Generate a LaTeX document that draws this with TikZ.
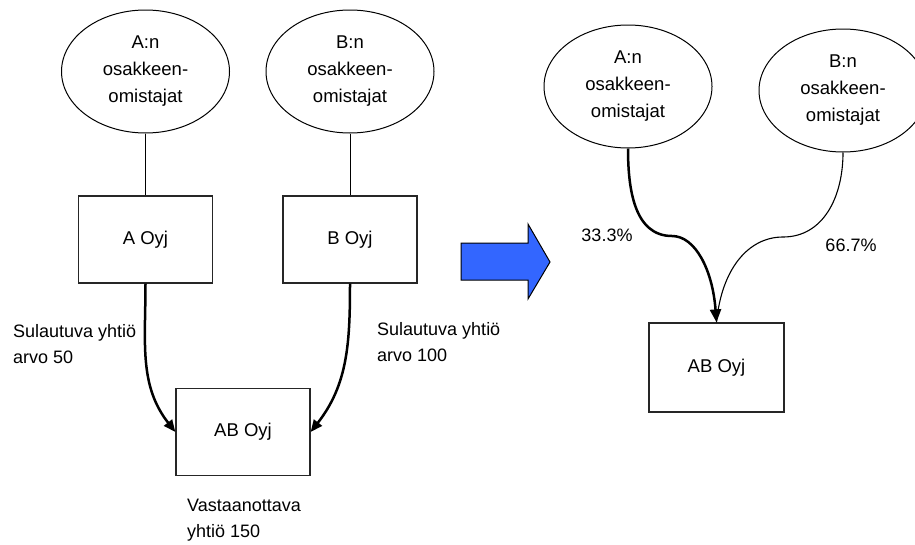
\documentclass[tikz,border=0pt]{standalone}
\usepackage{fontspec}
\setmainfont{Liberation Sans}
\usetikzlibrary{shapes.geometric,arrows.meta}
\definecolor{arrowblue}{RGB}{51,102,255}
\begin{document}
\begin{tikzpicture}[x=1pt,y=1pt,
  owner/.style={ellipse,draw,line width=1pt,minimum width=168pt,minimum height=123pt,
    inner sep=0pt,align=center,font=\fontsize{18.5}{27}\selectfont},
  firm/.style={rectangle,draw=black!85,line width=1.3pt,minimum width=134pt,
    minimum height=87pt,inner sep=0pt,font=\fontsize{18.5}{27}\selectfont},
  lbl/.style={inner sep=0pt,align=left,font=\fontsize{18}{25.5}\selectfont},
  link/.style={line width=1pt},
  merge/.style={line width=2.5pt,-{Triangle[length=12pt,width=10pt]}},
  share/.style={line width=1.1pt},
  bigarrow/.style={fill=arrowblue,draw=black,line width=1pt,line join=miter}]
\useasboundingbox (0,0) rectangle (915,-544);
\clip (0,0) rectangle (915,-544);

% Before the merger
\node[owner] (oa) at (145.5,-71.5) {A:n\\osakkeen-\\omistajat};
\node[owner] (ob) at (350,-71.5) {B:n\\osakkeen-\\omistajat};
\node[firm] (fa) at (145.5,-239.5) {A Oyj};
\node[firm] (fb) at (350,-239.5) {B Oyj};
\node[firm] (fab) at (243,-432) {AB Oyj};

\draw[link] (oa.south) -- (fa.north);
\draw[link] (ob.south) -- (fb.north);
\draw[merge] (fa.south) to[out=-90,in=128] (fab.west);
\draw[merge] (fb.south) to[out=-90,in=52] (fab.east);

\node[lbl,anchor=west] (la) at (13,-344) {Sulautuva yhtiö\\arvo 50};
\node[lbl,anchor=west] (lb) at (377,-342) {Sulautuva yhtiö\\arvo 100};
\node[lbl,anchor=west] (lc) at (187,-520) {Vastaanottava\\yhtiö 150};

% Transition arrow
\draw[bigarrow] (461,-243) -- (528,-243) -- (528,-224) -- (550,-262)
  -- (528,-299) -- (528,-280) -- (461,-280) -- cycle;

% After the merger
\node[owner] (ra) at (628,-86.5) {A:n\\osakkeen-\\omistajat};
\node[owner] (rb) at (843,-90.5) {B:n\\osakkeen-\\omistajat};
\node[firm,minimum width=135pt,minimum height=89pt] (rab) at (716.5,-367.5) {AB Oyj};

\coordinate (ka) at (672,-236);
\coordinate (kb) at (783,-237);
\draw[share] (rb.south) .. controls +(0,-45) and +(40,0) .. (kb)
  .. controls +(-35,0) and +(5,53) .. (rab.north);
\draw[merge,-{Triangle[length=13pt,width=11pt]}] (ra.south) .. controls +(0,-40) and +(-38,0) .. (ka)
  .. controls +(23,0) and +(-4,53) .. (rab.north);

\node[lbl] (pa) at (607,-235) {33.3\%};
\node[lbl] (pb) at (851,-245) {66.7\%};
\end{tikzpicture}
\end{document}
